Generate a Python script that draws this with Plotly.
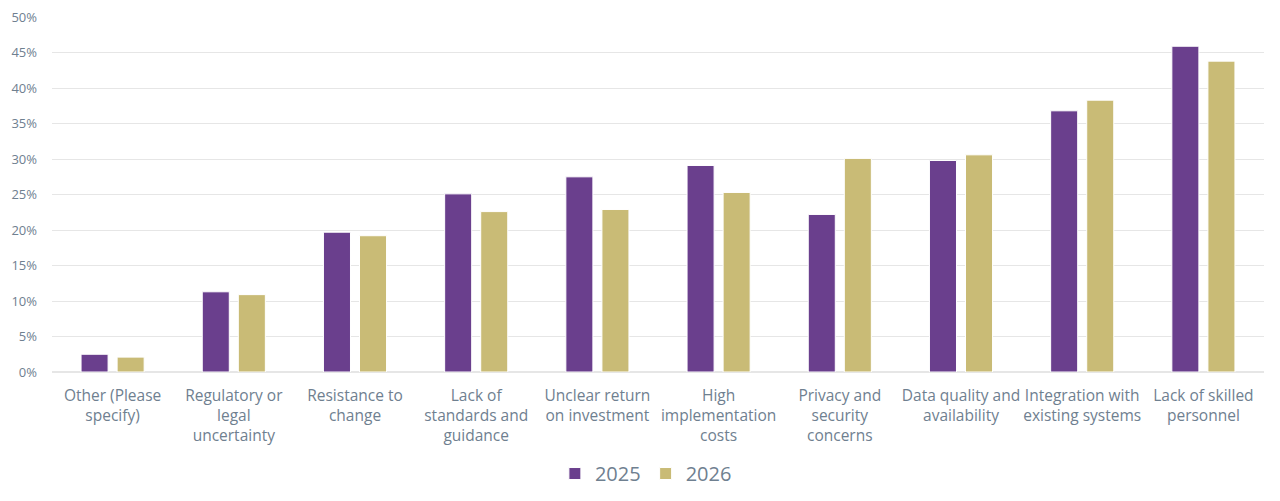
import plotly.graph_objects as go

# Categories (x axis) and series values
categories = [
    "Other (Please<br>specify)",
    "Regulatory or<br>legal<br>uncertainty",
    "Resistance to<br>change",
    "Lack of<br>standards and<br>guidance",
    "Unclear return<br>on investment",
    "High<br>implementation<br>costs",
    "Privacy and<br>security<br>concerns",
    "Data quality and<br>availability",
    "Integration with<br>existing systems",
    "Lack of skilled<br>personnel",
]
values_2025 = [2.5, 11.3, 19.7, 25.1, 27.5, 29.1, 22.2, 29.8, 36.8, 45.9]
values_2026 = [2.1, 10.9, 19.2, 22.6, 22.9, 25.3, 30.1, 30.6, 38.3, 43.8]

y_ticks = [0, 5, 10, 15, 20, 25, 30, 35, 40, 45, 50]
y_tick_labels = [f"{v}%" for v in y_ticks]

text_color = "#6f8090"

fig = go.Figure()
fig.add_trace(
    go.Bar(
        name="2025",
        x=categories,
        y=values_2025,
        marker=dict(color="#6a3f8d", line=dict(color="white", width=1)),
    )
)
fig.add_trace(
    go.Bar(
        name="2026",
        x=categories,
        y=values_2026,
        marker=dict(color="#c9bb76", line=dict(color="white", width=1)),
    )
)

# page body keeps an 8px margin, so the plot margins are set against that
fig.update_layout(
    barmode="group",
    bargap=0.405,
    bargroupgap=0.25,
    plot_bgcolor="white",
    paper_bgcolor="white",
    font=dict(family="Open Sans", color=text_color, size=15),
    margin=dict(l=44, r=8, t=9, b=121, autoexpand=False),
    legend=dict(
        orientation="h",
        x=0.49,
        xanchor="center",
        y=-0.286,
        yanchor="middle",
        font=dict(size=20, color=text_color),
        itemwidth=30,
    ),
)

fig.update_xaxes(
    showgrid=False,
    showline=False,
    ticks="",
    tickangle=0,
    tickfont=dict(size=15.5, color=text_color),
    ticklabelstandoff=12,
)
fig.update_yaxes(
    range=[0, 50.02],
    tickvals=y_ticks,
    ticktext=y_tick_labels,
    showgrid=True,
    gridcolor="#e6e6e6",
    gridwidth=1,
    zeroline=True,
    zerolinecolor="#e6e6e6",
    tickfont=dict(size=13, color=text_color),
    ticklabelstandoff=14,
    ticklabeloverflow="allow",
)

fig.write_html("out.html")
